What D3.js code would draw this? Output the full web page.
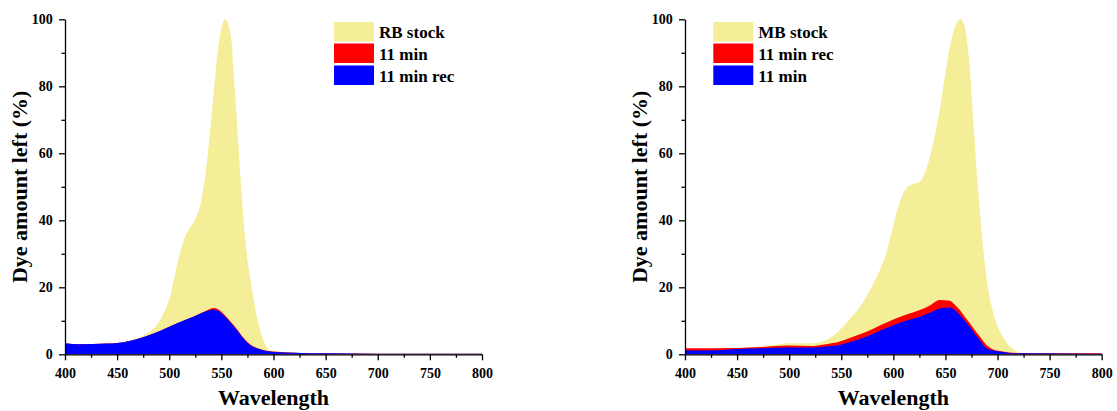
<!DOCTYPE html>
<html>
<head>
<meta charset="utf-8">
<script src="https://cdn.jsdelivr.net/npm/d3@7"></script>
<style>
  body { margin: 0; background: #fff; }
  svg text { font-family: "Liberation Serif", "Times New Roman", serif; font-weight: bold; fill: #000; }
</style>
</head>
<body>
<svg id="chart" width="1117" height="411"></svg>
<script>
// [wavelength, % dye left]
const rbStock = [[400,3.3],[414,3.0],[440,3.2],[456,3.6],[466,4.4],[475,5.6],[483,7.2],[491,10],[497,14],[501,17.5],[507,26],[511,31],[515,35],[519,37.3],[523,39.2],[527,41.8],[530,44.8],[533,50],[536,57],[539,66],[542,76],[545,86],[548,94],[551,98.5],[553.8,100],[557,98],[560,92.5],[562,83],[564,74],[566.2,63],[568.5,52],[570.5,43],[574,31],[579,20],[584,11.2],[589,5.3],[594,1.9],[600,0.9],[620,0.5],[650,0.3],[700,0.2],[800,0.2]];
const rb11min = [[400,3.3],[414,3.0],[440,3.2],[456,3.6],[465,4.2],[475,5.1],[491,6.95],[507,9.2],[523,11.2],[536,13.1],[543,13.8],[548,13.2],[552,12.1],[558,10.1],[565,7.5],[571,5.0],[577.5,3.0],[587,1.6],[600,0.8],[620,0.5],[650,0.3],[700,0.2],[800,0.2]];
const rb11minRec = [[400,3.3],[414,3.0],[440,3.2],[456,3.6],[465,4.2],[475,5.1],[491,6.95],[507,9.2],[523,11.2],[536,12.9],[543,13.4],[548,12.8],[552,11.7],[558,9.7],[565,7.2],[571,4.8],[577.5,2.8],[587,1.5],[600,0.7],[620,0.5],[650,0.3],[700,0.2],[800,0.2]];

const mbStock = [[400,1.5],[450,1.8],[480,2.6],[499,3.3],[523,3.3],[532,3.8],[540,5.0],[548.7,7.3],[558,10.5],[568,14.2],[578,19.5],[587,25.2],[593,30],[598,36],[603.7,43],[609.4,48],[615.8,50.4],[625.4,51.5],[630,54],[633.4,57],[638.2,63],[644.6,72.9],[649.4,82.9],[654.9,92.8],[659,97.8],[664.4,100],[668.6,97.8],[671,92.8],[674,82.9],[676,72.9],[678.2,63],[680.4,53],[683,43],[685.5,34],[688,26.5],[690.5,20.5],[694,14.8],[699,9.3],[705.3,5.2],[710,3],[718,1.0],[725,0.4],[740,0.3],[800,0.3]];
const mb11minRec = [[400,1.8],[450,1.9],[475,2.2],[499,2.6],[523,2.5],[535,3.0],[548.7,3.8],[560,5.1],[574.3,6.75],[587,8.6],[600,10.4],[612,11.8],[625.4,13.2],[635,14.6],[644.6,16.2],[654.2,16.0],[659,14.8],[663.8,13.2],[668.6,11.2],[673.4,9.25],[678,7.3],[683,5.3],[689.4,2.8],[694,1.7],[699,1.1],[705,0.8],[718,0.4],[800,0.3]];
const mb11min = [[400,1.3],[410,1.1],[430,1.2],[450,1.6],[475,1.8],[499,2.0],[523,2.0],[535,2.3],[548.7,2.8],[560,3.8],[574.3,5.3],[587,7.0],[600,8.7],[612,10.0],[625.4,11.2],[635,12.4],[644.6,13.7],[654.2,14.0],[659,13.2],[663.8,11.7],[668.6,10],[673.4,8.2],[678,6.2],[683,4.3],[689.4,1.8],[699,1.0],[705,0.7],[718,0.3],[800,0.2]];

const xMajorTicks = [400, 450, 500, 550, 600, 650, 700, 750, 800];
const xMinorTicks = [425, 475, 525, 575, 625, 675, 725, 775];
const yMajorTicks = [0, 20, 40, 60, 80, 100];
const yMinorTicks = [10, 30, 50, 70, 90];

const svg = d3.select("#chart");

const drawPanel = (left, right, series, legendX) => {
    const top = 19.3, bottom = 354.3;
    const x = d3.scaleLinear().domain([400, 800]).range([left, right]);
    const y = d3.scaleLinear().domain([0, 100]).range([bottom, top]);

    const area = d3.area()
        .x(d => x(d[0]))
        .y0(y(0))
        .y1(d => y(d[1]))
        .curve(d3.curveMonotoneX);

    series.forEach(s => {
        svg.append("path")
            .datum(s.data)
            .attr("fill", s.color)
            .attr("d", area);
    });

    // minor ticks
    svg.append("g")
        .attr("transform", `translate(0,${bottom})`)
        .call(d3.axisBottom(x).tickValues(xMinorTicks).tickSize(3.5).tickSizeOuter(0).tickFormat(""))
        .call(g => g.select(".domain").remove())
        .selectAll("line").attr("stroke-width", 1.3);
    svg.append("g")
        .attr("transform", `translate(${left},0)`)
        .call(d3.axisLeft(y).tickValues(yMinorTicks).tickSize(3.5).tickSizeOuter(0).tickFormat(""))
        .call(g => g.select(".domain").remove())
        .selectAll("line").attr("stroke-width", 1.3);

    const xAxis = svg.append("g")
        .attr("transform", `translate(0,${bottom})`)
        .call(d3.axisBottom(x).tickValues(xMajorTicks).tickSize(6).tickSizeOuter(0).tickPadding(7.3));
    const yAxis = svg.append("g")
        .attr("transform", `translate(${left},0)`)
        .call(d3.axisLeft(y).tickValues(yMajorTicks).tickSize(6).tickSizeOuter(0).tickPadding(6.3));

    [xAxis, yAxis].forEach(g => {
        g.selectAll("path, line").attr("stroke", "#000").attr("stroke-width", 1.3);
        g.selectAll("text")
            .style("font-family", '"Liberation Serif", "Times New Roman", serif')
            .style("font-weight", "bold")
            .style("font-size", "14px")
            .attr("fill", "#000");
    });

    svg.append("text")
        .attr("x", (left + right) / 2)
        .attr("y", 405)
        .attr("text-anchor", "middle")
        .style("font-size", "22px")
        .text("Wavelength");

    svg.append("text")
        .attr("transform", `translate(${left - 38},${(top + bottom) / 2}) rotate(-90)`)
        .attr("text-anchor", "middle")
        .style("font-size", "22px")
        .text("Dye amount left (%)");

    // legend
    const rowTops = [22, 43.5, 65.5];
    series.forEach((s, i) => {
        svg.append("rect")
            .attr("x", legendX)
            .attr("y", rowTops[i])
            .attr("width", 40)
            .attr("height", 19.5)
            .attr("fill", s.color);
        svg.append("text")
            .attr("x", legendX + 45)
            .attr("y", rowTops[i] + 16)
            .style("font-size", "17px")
            .text(s.name);
    });
};

drawPanel(65, 482, [
    {name: "RB stock", data: rbStock, color: "#f5ee98"},
    {name: "11 min", data: rb11min, color: "#ff0000"},
    {name: "11 min rec", data: rb11minRec, color: "#0000ff"}
], 334);

drawPanel(685, 1101.7, [
    {name: "MB stock", data: mbStock, color: "#f5ee98"},
    {name: "11 min rec", data: mb11minRec, color: "#ff0000"},
    {name: "11 min", data: mb11min, color: "#0000ff"}
], 713.3);
</script>
</body>
</html>
